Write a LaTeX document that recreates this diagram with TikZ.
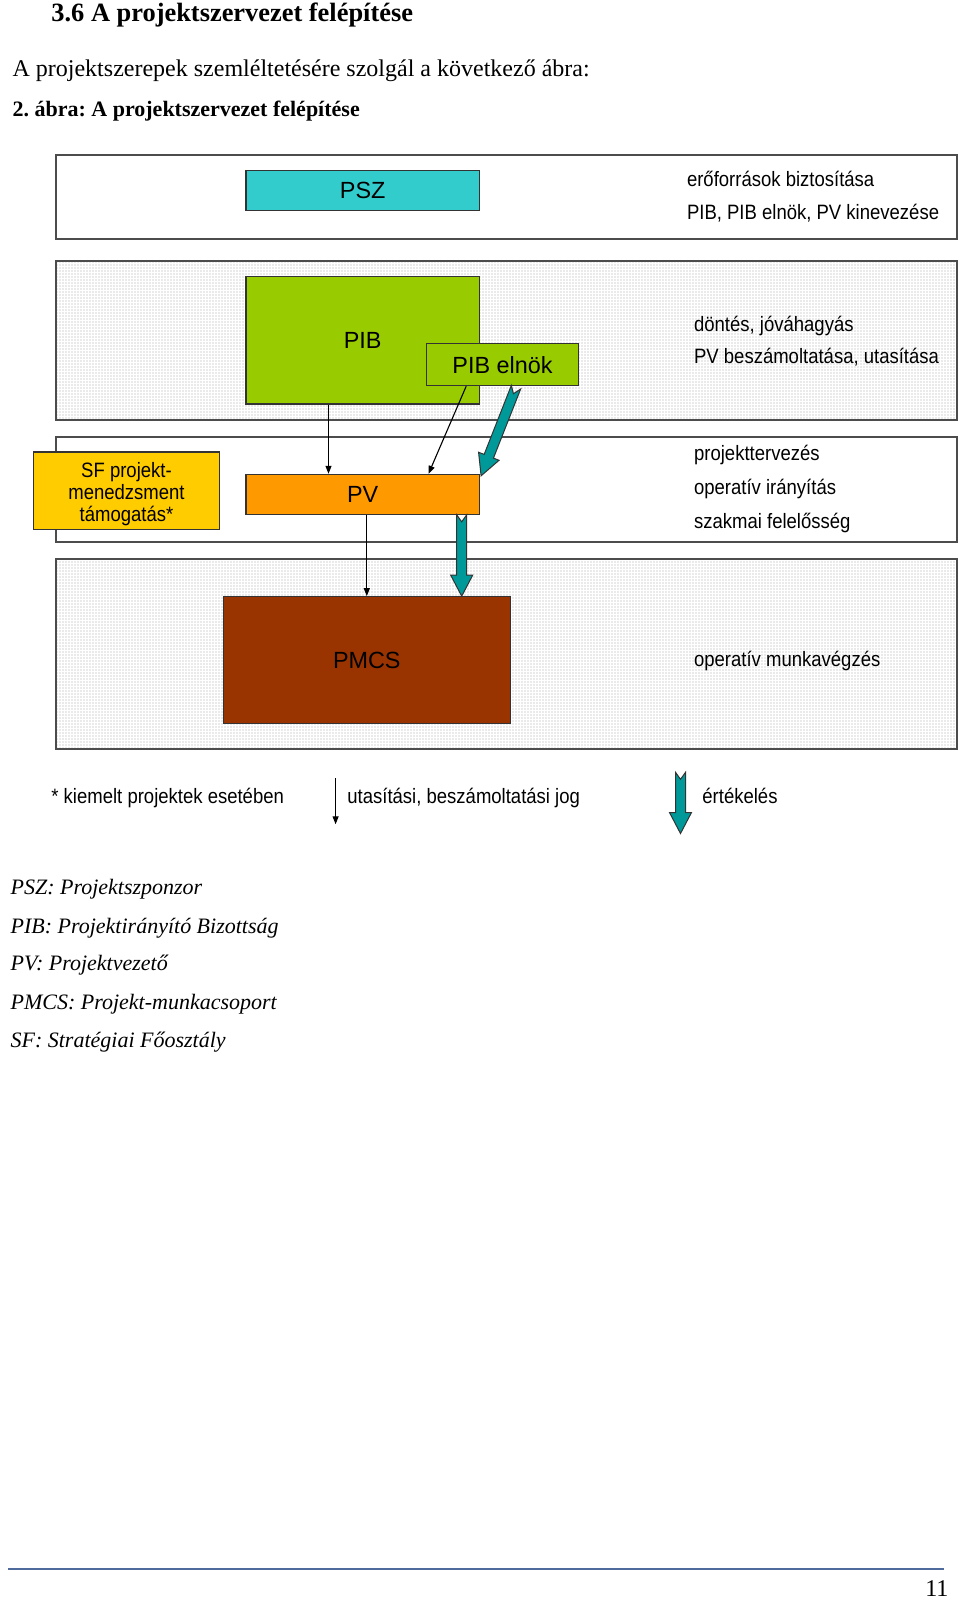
\documentclass[tikz,border=0pt]{standalone}
\usepackage{fontspec}
\setmainfont{Liberation Serif}
\newfontfamily\diagfont[FakeStretch=0.89]{Liberation Sans}
\newfontfamily\labelfont{Liberation Sans}
\usetikzlibrary{calc,arrows.meta,patterns.meta}
\frenchspacing

\definecolor{pszcyan}{HTML}{33CCCC}
\definecolor{pibgreen}{HTML}{99CC00}
\definecolor{pvorange}{HTML}{FF9900}
\definecolor{sfyellow}{HTML}{FFCC00}
\definecolor{pmcsbrown}{HTML}{993300}
\definecolor{evalteal}{HTML}{009999}
\definecolor{rulecol}{HTML}{4F6B9E}

% block arrow with notched tail, from #1 to #2
\newcommand\evalarrow[2]{%
  \path (#1) coordinate (ea tail) (#2) coordinate (ea tip);
  \path ($(ea tip)!10.5pt!(ea tail)$) coordinate (ea head);
  \draw[evalfill] ($(ea tail)!2.5pt!90:(ea tip)$) -- ($(ea tail)!3.5pt!(ea tip)$)
    -- ($(ea tail)!2.5pt!-90:(ea tip)$) -- ($(ea head)!2.5pt!-90:(ea tip)$)
    -- ($(ea head)!5.5pt!-90:(ea tip)$) -- (ea tip)
    -- ($(ea head)!5.5pt!90:(ea tip)$) -- ($(ea head)!2.5pt!90:(ea tip)$) -- cycle;}

\begin{document}
\begin{tikzpicture}[x=0.5pt,y=-0.5pt,
  layer/.style={draw=black!70,line width=0.9pt,minimum width=450.5pt,inner sep=0pt,fill=white},
  dotlayer/.style={layer,pattern={Dots[distance=1.5pt,radius=0.35pt]},pattern color=black!35},
  role/.style={draw=black!80,line width=0.6pt,inner sep=0pt,font=\labelfont\fontsize{11.7}{14}\selectfont},
  task/.style={anchor=west,inner sep=0pt,yshift=-1pt,text height=1.5ex,text depth=.25ex,font=\diagfont\fontsize{10.4}{11}\selectfont},
  prose/.style={anchor=west,inner sep=0pt,yshift=-1pt,text height=1.5ex,text depth=.25ex},
  instr/.style={-{Triangle[length=4pt,width=3pt]},line width=0.55pt},
  evalfill/.style={fill=evalteal,draw=black!80,line width=0.5pt,line join=miter}]
  \useasboundingbox (0,0) rectangle (960,1600);

  % heading
  \node[prose,font=\bfseries\fontsize{13.2}{15}\selectfont] (title) at (51,13.3) {3.6 A projektszervezet felépítése};
  \node[prose,font=\fontsize{12}{14}\selectfont] (intro) at (12.2,68.4) {A projektszerepek szemléltetésére szolgál a következő ábra:};
  \node[prose,font=\bfseries\fontsize{11}{13}\selectfont] (caption) at (12.2,109.2) {2. ábra: A projektszervezet felépítése};

  % layers
  \node[layer,minimum height=41.8pt] (layer1) at (506.55,196.9) {};
  \node[dotlayer,minimum height=79.55pt] (layer2) at (506.55,340.75) {};
  \node[layer,minimum height=52.55pt] (layer3) at (506.55,489.15) {};
  \node[dotlayer,minimum height=94.85pt] (layer4) at (506.55,653.95) {};

  % roles
  \node[role,fill=pszcyan,minimum width=116.8pt,minimum height=19.9pt] (psz) at (362.7,190.3) {PSZ};
  \node[role,fill=pibgreen,minimum width=116.8pt,minimum height=63.75pt] (pib) at (362.7,340.25) {PIB};
  \node[role,fill=pibgreen,minimum width=76pt,minimum height=20.9pt] (elnok) at (502.5,364.7) {PIB elnök};
  \node[role,fill=sfyellow,minimum width=92.8pt,minimum height=38.75pt,align=center,
        font=\diagfont\fontsize{10.4}{11}\selectfont] (sf) at (126.5,490.75) {\rule{0pt}{2.05ex}SF projekt-\\menedzsment\\támogatás*};
  \node[role,fill=pvorange,minimum width=116.8pt,minimum height=19.9pt] (pv) at (362.7,494.3) {PV};
  \node[role,fill=pmcsbrown,minimum width=143.35pt,minimum height=63.25pt] (pmcs) at (366.8,660) {PMCS};

  % tasks
  \node[task] (psz task a) at (686.6,178.5) {erőforrások biztosítása};
  \node[task] (psz task b) at (686.6,212.2) {PIB, PIB elnök, PV kinevezése};
  \node[task] (pib task a) at (693.7,323.4) {döntés, jóváhagyás};
  \node[task] (pib task b) at (693.7,356) {PV beszámoltatása, utasítása};
  \node[task] (pv task a) at (693.7,453) {projekttervezés};
  \node[task] (pv task b) at (693.7,486.6) {operatív irányítás};
  \node[task] (pv task c) at (693.7,520.3) {szakmai felelősség};
  \node[task] (pmcs task) at (693.7,659) {operatív munkavégzés};

  % connectors
  \draw[instr] ([xshift=-17.1pt]pib.south) -- ([xshift=-17.1pt]pv.north);
  \draw[instr] ([xshift=-18.15pt]elnok.south) -- ([xshift=32.9pt]pv.north);
  \draw[instr] (pmcs.north |- pv.south) -- (pmcs.north);
  \evalarrow{$(elnok.south)+(13.5,1)$}{$(pv.north east)+(1,2)$}
  \coordinate (pv eval) at ($(pv.south)+(99,0)$);
  \evalarrow{pv eval}{pv eval |- pmcs.north}

  % key
  \node[task] (key star) at (51,795.8) {* kiemelt projektek esetében};
  \coordinate (key instr top) at (335.6,778.4);
  \coordinate (key instr end) at (335.6,824.3);
  \draw[instr] (key instr top) -- (key instr end);
  \node[task] (key instr) at (347,795.8) {utasítási, beszámoltatási jog};
  \coordinate (key eval top) at (680.5,772.3);
  \coordinate (key eval end) at (680.5,833.5);
  \evalarrow{key eval top}{key eval end}
  \node[task] (key eval) at (702,795.8) {értékelés};

  % abbreviations
  \node[prose,font=\itshape\fontsize{11}{13}\selectfont] (abbr psz) at (10.2,886.6) {PSZ: Projektszponzor};
  \node[prose,font=\itshape\fontsize{11}{13}\selectfont] (abbr pib) at (10.2,925.3) {PIB: Projektirányító Bizottság};
  \node[prose,font=\itshape\fontsize{11}{13}\selectfont] (abbr pv) at (10.2,963) {PV: Projektvezető};
  \node[prose,font=\itshape\fontsize{11}{13}\selectfont] (abbr pmcs) at (10.2,1001.8) {PMCS: Projekt-munkacsoport};
  \node[prose,font=\itshape\fontsize{11}{13}\selectfont] (abbr sf) at (10.2,1039.6) {SF: Stratégiai Főosztály};

  % footer
  \coordinate (rule left) at (8.2,1569);
  \coordinate (rule right) at (943.7,1569);
  \draw[rulecol,line width=1.1pt] (rule left) -- (rule right);
  \node[anchor=east,inner sep=0pt,font=\fontsize{12}{14}\selectfont] (page) at (948.8,1588.5) {11};
\end{tikzpicture}
\end{document}
